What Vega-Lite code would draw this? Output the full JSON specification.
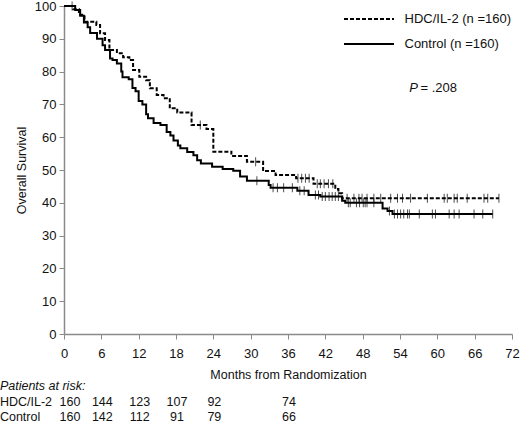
{
  "$schema": "https://vega.github.io/schema/vega-lite/v6.json",
  "width": 448,
  "height": 328,
  "autosize": {"type": "none"},
  "padding": {"left": 64, "top": 6, "right": 8, "bottom": 91},
  "background": "white",
  "config": {
    "font": "Liberation Sans",
    "view": {"stroke": null},
    "axis": {
      "grid": false,
      "domainColor": "#8a8a8a",
      "domainWidth": 1.5,
      "tickColor": "#8a8a8a",
      "tickSize": 5,
      "tickCount": 30,
      "labelOverlap": false,
      "labelFlush": false,
      "labelColor": "#111",
      "labelFont": "Liberation Sans",
      "labelFontSize": 13,
      "titleFont": "Liberation Sans",
      "titleFontSize": 12.5,
      "titleFontWeight": "normal",
      "titleColor": "#111"
    }
  },
  "datasets": {
    "curves": [
      {"arm": "HDC/IL-2", "month": 0, "surv": 100},
      {"arm": "HDC/IL-2", "month": 1.5, "surv": 99},
      {"arm": "HDC/IL-2", "month": 2.4, "surv": 97.3},
      {"arm": "HDC/IL-2", "month": 3.3, "surv": 95.2},
      {"arm": "HDC/IL-2", "month": 5.2, "surv": 94.2},
      {"arm": "HDC/IL-2", "month": 5.8, "surv": 91.7},
      {"arm": "HDC/IL-2", "month": 6.6, "surv": 89.6},
      {"arm": "HDC/IL-2", "month": 7.3, "surv": 86.6},
      {"arm": "HDC/IL-2", "month": 8.5, "surv": 85.6},
      {"arm": "HDC/IL-2", "month": 9.5, "surv": 84.4},
      {"arm": "HDC/IL-2", "month": 10.5, "surv": 83.5},
      {"arm": "HDC/IL-2", "month": 11.1, "surv": 80.5},
      {"arm": "HDC/IL-2", "month": 12.1, "surv": 78.4},
      {"arm": "HDC/IL-2", "month": 13.2, "surv": 77.4},
      {"arm": "HDC/IL-2", "month": 13.8, "surv": 74.9},
      {"arm": "HDC/IL-2", "month": 14.9, "surv": 72.9},
      {"arm": "HDC/IL-2", "month": 16, "surv": 71.9},
      {"arm": "HDC/IL-2", "month": 17, "surv": 68.8},
      {"arm": "HDC/IL-2", "month": 18.2, "surv": 67.5},
      {"arm": "HDC/IL-2", "month": 20.5, "surv": 63.7},
      {"arm": "HDC/IL-2", "month": 22.9, "surv": 62.5},
      {"arm": "HDC/IL-2", "month": 24, "surv": 55.6},
      {"arm": "HDC/IL-2", "month": 26.9, "surv": 54.3},
      {"arm": "HDC/IL-2", "month": 29.4, "surv": 52.5},
      {"arm": "HDC/IL-2", "month": 32, "surv": 49.7},
      {"arm": "HDC/IL-2", "month": 34, "surv": 48.5},
      {"arm": "HDC/IL-2", "month": 37.3, "surv": 47.5},
      {"arm": "HDC/IL-2", "month": 40.1, "surv": 45.8},
      {"arm": "HDC/IL-2", "month": 43.6, "surv": 44.2},
      {"arm": "HDC/IL-2", "month": 44.1, "surv": 42.9},
      {"arm": "HDC/IL-2", "month": 44.7, "surv": 41.4},
      {"arm": "HDC/IL-2", "month": 69.9, "surv": 41.4},
      {"arm": "Control", "month": 0, "surv": 100},
      {"arm": "Control", "month": 1.8, "surv": 98.8},
      {"arm": "Control", "month": 2.6, "surv": 97},
      {"arm": "Control", "month": 3.2, "surv": 95},
      {"arm": "Control", "month": 3.8, "surv": 93.5},
      {"arm": "Control", "month": 4.2, "surv": 91.8},
      {"arm": "Control", "month": 5.3, "surv": 90},
      {"arm": "Control", "month": 6.2, "surv": 88},
      {"arm": "Control", "month": 6.6, "surv": 86.6},
      {"arm": "Control", "month": 7.4, "surv": 84},
      {"arm": "Control", "month": 7.8, "surv": 83.5},
      {"arm": "Control", "month": 8.5, "surv": 82.5},
      {"arm": "Control", "month": 9.2, "surv": 80},
      {"arm": "Control", "month": 9.4, "surv": 78.3},
      {"arm": "Control", "month": 10.4, "surv": 77.7},
      {"arm": "Control", "month": 11, "surv": 75},
      {"arm": "Control", "month": 11.5, "surv": 74},
      {"arm": "Control", "month": 12, "surv": 71},
      {"arm": "Control", "month": 12.6, "surv": 70},
      {"arm": "Control", "month": 13.2, "surv": 67},
      {"arm": "Control", "month": 13.5, "surv": 65.8},
      {"arm": "Control", "month": 14.4, "surv": 64.3},
      {"arm": "Control", "month": 15.5, "surv": 63.7},
      {"arm": "Control", "month": 16.5, "surv": 61.6},
      {"arm": "Control", "month": 17.1, "surv": 60.5},
      {"arm": "Control", "month": 17.6, "surv": 59},
      {"arm": "Control", "month": 18.3, "surv": 57.5},
      {"arm": "Control", "month": 18.7, "surv": 56.6},
      {"arm": "Control", "month": 19.8, "surv": 55.5},
      {"arm": "Control", "month": 20.8, "surv": 54.5},
      {"arm": "Control", "month": 21.4, "surv": 53},
      {"arm": "Control", "month": 22, "surv": 52},
      {"arm": "Control", "month": 23.8, "surv": 51},
      {"arm": "Control", "month": 25.5, "surv": 50.3},
      {"arm": "Control", "month": 27.2, "surv": 49.8},
      {"arm": "Control", "month": 28.3, "surv": 48},
      {"arm": "Control", "month": 29.4, "surv": 46.7},
      {"arm": "Control", "month": 32.9, "surv": 45.4},
      {"arm": "Control", "month": 33.2, "surv": 44.6},
      {"arm": "Control", "month": 37.5, "surv": 43.7},
      {"arm": "Control", "month": 39.3, "surv": 42.4},
      {"arm": "Control", "month": 41.2, "surv": 41.9},
      {"arm": "Control", "month": 44.7, "surv": 40.6},
      {"arm": "Control", "month": 45.2, "surv": 40},
      {"arm": "Control", "month": 51.2, "surv": 38.3},
      {"arm": "Control", "month": 52, "surv": 37.5},
      {"arm": "Control", "month": 52.8, "surv": 36.6},
      {"arm": "Control", "month": 68.9, "surv": 36.6}
    ],
    "censored": [
      {"arm": "HDC/IL-2", "month": 1.3, "surv": 100},
      {"arm": "HDC/IL-2", "month": 21.9, "surv": 63.7},
      {"arm": "HDC/IL-2", "month": 30.8, "surv": 52.5},
      {"arm": "HDC/IL-2", "month": 37.6, "surv": 47.5},
      {"arm": "HDC/IL-2", "month": 38.2, "surv": 47.5},
      {"arm": "HDC/IL-2", "month": 38.8, "surv": 47.5},
      {"arm": "HDC/IL-2", "month": 39.4, "surv": 47.5},
      {"arm": "HDC/IL-2", "month": 40.7, "surv": 45.8},
      {"arm": "HDC/IL-2", "month": 41.2, "surv": 45.8},
      {"arm": "HDC/IL-2", "month": 41.8, "surv": 45.8},
      {"arm": "HDC/IL-2", "month": 42.5, "surv": 45.8},
      {"arm": "HDC/IL-2", "month": 43.2, "surv": 45.8},
      {"arm": "HDC/IL-2", "month": 45.5, "surv": 41.4},
      {"arm": "HDC/IL-2", "month": 46.6, "surv": 41.4},
      {"arm": "HDC/IL-2", "month": 47.4, "surv": 41.4},
      {"arm": "HDC/IL-2", "month": 47.9, "surv": 41.4},
      {"arm": "HDC/IL-2", "month": 48.7, "surv": 41.4},
      {"arm": "HDC/IL-2", "month": 49.8, "surv": 41.4},
      {"arm": "HDC/IL-2", "month": 50.9, "surv": 41.4},
      {"arm": "HDC/IL-2", "month": 52.5, "surv": 41.4},
      {"arm": "HDC/IL-2", "month": 53.6, "surv": 41.4},
      {"arm": "HDC/IL-2", "month": 54.4, "surv": 41.4},
      {"arm": "HDC/IL-2", "month": 55.7, "surv": 41.4},
      {"arm": "HDC/IL-2", "month": 58.4, "surv": 41.4},
      {"arm": "HDC/IL-2", "month": 61.1, "surv": 41.4},
      {"arm": "HDC/IL-2", "month": 61.6, "surv": 41.4},
      {"arm": "HDC/IL-2", "month": 62.7, "surv": 41.4},
      {"arm": "HDC/IL-2", "month": 63.2, "surv": 41.4},
      {"arm": "HDC/IL-2", "month": 64.8, "surv": 41.4},
      {"arm": "HDC/IL-2", "month": 67.5, "surv": 41.4},
      {"arm": "HDC/IL-2", "month": 68.1, "surv": 41.4},
      {"arm": "HDC/IL-2", "month": 69.9, "surv": 41.4},
      {"arm": "Control", "month": 31, "surv": 46.7},
      {"arm": "Control", "month": 33.6, "surv": 44.6},
      {"arm": "Control", "month": 34.3, "surv": 44.6},
      {"arm": "Control", "month": 35.3, "surv": 44.6},
      {"arm": "Control", "month": 36.7, "surv": 44.6},
      {"arm": "Control", "month": 37.9, "surv": 43.7},
      {"arm": "Control", "month": 38.6, "surv": 43.7},
      {"arm": "Control", "month": 40.4, "surv": 42.4},
      {"arm": "Control", "month": 40.9, "surv": 42.4},
      {"arm": "Control", "month": 41.5, "surv": 41.9},
      {"arm": "Control", "month": 42, "surv": 41.9},
      {"arm": "Control", "month": 42.6, "surv": 41.9},
      {"arm": "Control", "month": 43.1, "surv": 41.9},
      {"arm": "Control", "month": 43.6, "surv": 41.9},
      {"arm": "Control", "month": 44.1, "surv": 41.9},
      {"arm": "Control", "month": 45.7, "surv": 40},
      {"arm": "Control", "month": 46, "surv": 40},
      {"arm": "Control", "month": 47, "surv": 40},
      {"arm": "Control", "month": 47.5, "surv": 40},
      {"arm": "Control", "month": 48.1, "surv": 40},
      {"arm": "Control", "month": 48.4, "surv": 40},
      {"arm": "Control", "month": 48.7, "surv": 40},
      {"arm": "Control", "month": 49.8, "surv": 40},
      {"arm": "Control", "month": 52.3, "surv": 37.5},
      {"arm": "Control", "month": 53.1, "surv": 36.6},
      {"arm": "Control", "month": 53.6, "surv": 36.6},
      {"arm": "Control", "month": 54.1, "surv": 36.6},
      {"arm": "Control", "month": 54.6, "surv": 36.6},
      {"arm": "Control", "month": 55.2, "surv": 36.6},
      {"arm": "Control", "month": 55.5, "surv": 36.6},
      {"arm": "Control", "month": 57.1, "surv": 36.6},
      {"arm": "Control", "month": 59.2, "surv": 36.6},
      {"arm": "Control", "month": 59.7, "surv": 36.6},
      {"arm": "Control", "month": 61.9, "surv": 36.6},
      {"arm": "Control", "month": 62.7, "surv": 36.6},
      {"arm": "Control", "month": 63.5, "surv": 36.6},
      {"arm": "Control", "month": 65.9, "surv": 36.6},
      {"arm": "Control", "month": 67.3, "surv": 36.6},
      {"arm": "Control", "month": 68.9, "surv": 36.6}
    ],
    "risk": [
      {"arm": "HDC/IL-2", "month": 0, "n": 160},
      {"arm": "HDC/IL-2", "month": 6, "n": 144},
      {"arm": "HDC/IL-2", "month": 12, "n": 123},
      {"arm": "HDC/IL-2", "month": 18, "n": 107},
      {"arm": "HDC/IL-2", "month": 24, "n": 92},
      {"arm": "HDC/IL-2", "month": 36, "n": 74},
      {"arm": "Control", "month": 0, "n": 160},
      {"arm": "Control", "month": 6, "n": 142},
      {"arm": "Control", "month": 12, "n": 112},
      {"arm": "Control", "month": 18, "n": 91},
      {"arm": "Control", "month": 24, "n": 79},
      {"arm": "Control", "month": 36, "n": 66}
    ],
    "one": [{}]
  },
  "layer": [
    {
      "data": {"name": "curves"},
      "mark": {"type": "line", "interpolate": "step-after", "color": "black", "strokeWidth": 2},
      "encoding": {
        "x": {
          "field": "month",
          "type": "quantitative",
          "scale": {"domain": [0, 72], "nice": false, "zero": false},
          "axis": {
            "values": [0, 6, 12, 18, 24, 30, 36, 42, 48, 54, 60, 66, 72],
            "tickCount": 30,
            "labelOverlap": false,
            "labelPadding": 8,
            "title": "Months from Randomization",
            "titlePadding": 8
          }
        },
        "y": {
          "field": "surv",
          "type": "quantitative",
          "scale": {"domain": [0, 100], "nice": false},
          "axis": {
            "values": [0, 10, 20, 30, 40, 50, 60, 70, 80, 90, 100],
            "tickCount": 30,
            "labelOverlap": false,
            "labelPadding": 3,
            "title": "Overall Survival",
            "titlePadding": 6
          }
        },
        "strokeDash": {
          "field": "arm",
          "type": "nominal",
          "scale": {"domain": ["HDC/IL-2", "Control"], "range": [[4, 2], [1, 0]]},
          "legend": {
            "orient": "none",
            "legendX": 291.5,
            "legendY": -0.5,
            "padding": 0,
            "title": null,
            "symbolType": "M-2,0H2",
            "symbolSize": 625,
            "symbolStrokeWidth": 2,
            "symbolStrokeColor": "black",
            "rowPadding": 4,
            "labelFont": "Liberation Sans",
            "labelFontSize": 13,
            "labelColor": "#111",
            "labelOffset": 22,
            "labelExpr": "datum.label + ' (n =160)'"
          }
        }
      }
    },
    {
      "data": {"name": "censored"},
      "mark": {"type": "tick", "orient": "vertical", "color": "black", "thickness": 1, "size": 9},
      "encoding": {
        "x": {"field": "month", "type": "quantitative"},
        "y": {"field": "surv", "type": "quantitative"}
      }
    },
    {
      "data": {"name": "one"},
      "mark": {"type": "text", "text": "P", "fontStyle": "italic", "fontSize": 13, "color": "#111", "align": "center", "baseline": "middle"},
      "encoding": {"x": {"datum": 56.2}, "y": {"datum": 75}}
    },
    {
      "data": {"name": "one"},
      "mark": {"type": "text", "text": "= .208", "fontSize": 13, "color": "#111", "align": "left", "baseline": "middle"},
      "encoding": {"x": {"datum": 57.3}, "y": {"datum": 75}}
    },
    {
      "data": {"name": "one"},
      "mark": {"type": "text", "text": "Patients at risk:", "fontStyle": "italic", "fontSize": 12.5, "color": "#111", "align": "left", "baseline": "middle"},
      "encoding": {"x": {"datum": -10.3}, "y": {"datum": -15.8}}
    },
    {
      "data": {"name": "one"},
      "mark": {"type": "text", "text": "HDC/IL-2", "fontSize": 12.5, "color": "#111", "align": "left", "baseline": "middle"},
      "encoding": {"x": {"datum": -10.3}, "y": {"datum": -20.7}}
    },
    {
      "data": {"name": "one"},
      "mark": {"type": "text", "text": "Control", "fontSize": 12.5, "color": "#111", "align": "left", "baseline": "middle"},
      "encoding": {"x": {"datum": -10.3}, "y": {"datum": -25.3}}
    },
    {
      "data": {"name": "risk"},
      "transform": [{"filter": "datum.arm == 'HDC/IL-2' && datum.month > 0"}],
      "mark": {"type": "text", "fontSize": 12.5, "color": "#111", "align": "center", "baseline": "middle", "dx": 1},
      "encoding": {
        "x": {"field": "month", "type": "quantitative"},
        "y": {"datum": -20.7},
        "text": {"field": "n", "type": "quantitative"}
      }
    },
    {
      "data": {"name": "risk"},
      "transform": [{"filter": "datum.arm == 'Control' && datum.month > 0"}],
      "mark": {"type": "text", "fontSize": 12.5, "color": "#111", "align": "center", "baseline": "middle", "dx": 1},
      "encoding": {
        "x": {"field": "month", "type": "quantitative"},
        "y": {"datum": -25.3},
        "text": {"field": "n", "type": "quantitative"}
      }
    },
    {
      "data": {"name": "risk"},
      "transform": [{"filter": "datum.arm == 'HDC/IL-2' && datum.month == 0"}],
      "mark": {"type": "text", "fontSize": 12.5, "color": "#111", "align": "center", "baseline": "middle", "dx": 6},
      "encoding": {
        "x": {"field": "month", "type": "quantitative"},
        "y": {"datum": -20.7},
        "text": {"field": "n", "type": "quantitative"}
      }
    },
    {
      "data": {"name": "risk"},
      "transform": [{"filter": "datum.arm == 'Control' && datum.month == 0"}],
      "mark": {"type": "text", "fontSize": 12.5, "color": "#111", "align": "center", "baseline": "middle", "dx": 6},
      "encoding": {
        "x": {"field": "month", "type": "quantitative"},
        "y": {"datum": -25.3},
        "text": {"field": "n", "type": "quantitative"}
      }
    }
  ]
}
